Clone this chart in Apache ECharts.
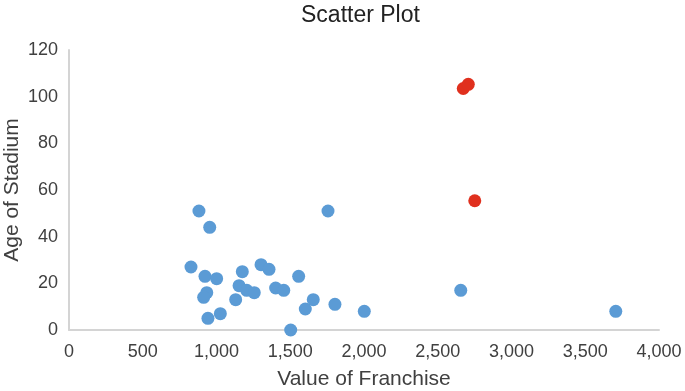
<!DOCTYPE html>
<html><head><meta charset="utf-8">
<script src="https://cdn.jsdelivr.net/npm/echarts@6/dist/echarts.min.js"></script>
<style>html,body{margin:0;padding:0;background:#fff}#c{width:685px;height:391px}</style>
</head><body><div id="c"></div>
<script>
const blueX = [881,954,827,922,1001,934,913,942,1026,1130,1153,1175,1205,1256,1302,1356,1401,1456,1503,1557,1602,1656,1756,1803,2002,2656,3707];
const blueY = [51,44,27,23,22,16,14,5,7,13,19,25,17,16,28,26,18,17,0,23,9,13,51,11,8,17,8];
const redX = [2673,2707,2751];
const redY = [103.5,105.3,55.4];
const xTicks = [0,500,1000,1500,2000,2500,3000,3500,4000];
const yTicks = [0,20,40,60,80,100,120];

const zip = (a,b)=>a.map((v,i)=>[v,b[i]]);
const chart = echarts.init(document.getElementById('c'));
const font = 'Liberation Sans, Arial, sans-serif';
chart.setOption({
  animation:false,
  title:{text:'Scatter Plot',left:296,top:-1,textStyle:{fontFamily:font,fontWeight:'normal',fontSize:23,color:'#222'}},
  grid:{left:69,right:26,top:50,bottom:61,containLabel:false,outerBoundsMode:'none'},
  xAxis:{type:'value',min:xTicks[0],max:xTicks[xTicks.length-1],interval:500,
    name:'Value of Franchise',nameLocation:'middle',nameGap:39,nameMoveOverlap:false,
    nameTextStyle:{fontFamily:font,fontSize:21,color:'#404040'},
    axisLine:{show:true,lineStyle:{color:'#d4d4d4',width:2}},axisTick:{show:false},splitLine:{show:false},
    axisLabel:{fontFamily:font,fontSize:18,color:'#404040',margin:13,
      formatter:v=>v.toLocaleString('en-US')}},
  yAxis:{type:'value',min:yTicks[0],max:yTicks[yTicks.length-1],interval:20,
    name:'Age of Stadium',nameLocation:'middle',nameGap:46,nameMoveOverlap:false,
    nameTextStyle:{fontFamily:font,fontSize:21,color:'#404040'},
    axisLine:{show:true,lineStyle:{color:'#d4d4d4',width:2}},axisTick:{show:false},splitLine:{show:false},
    axisLabel:{fontFamily:font,fontSize:18,color:'#404040',margin:11}},
  series:[
    {type:'scatter',data:zip(blueX,blueY),symbolSize:13,itemStyle:{color:'#5b9bd5',opacity:1}},
    {type:'scatter',data:zip(redX,redY),symbolSize:13,itemStyle:{color:'#e0301e',opacity:1}}
  ]
});
</script></body></html>
